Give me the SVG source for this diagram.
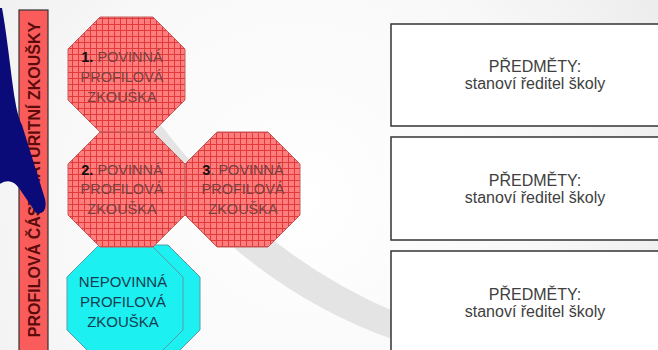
<svg xmlns="http://www.w3.org/2000/svg" width="658" height="350" viewBox="0 0 658 350">
  <defs>
    <radialGradient id="bg" cx="300" cy="200" r="420" gradientUnits="userSpaceOnUse">
      <stop offset="0" stop-color="#ffffff"/>
      <stop offset="0.6" stop-color="#f8f8f8"/>
      <stop offset="1" stop-color="#ececec"/>
    </radialGradient>
    <pattern id="grid" width="6" height="6" patternUnits="userSpaceOnUse">
      <rect width="6" height="6" fill="#ff7d7d"/>
      <path d="M0,0.5 H6 M0.5,0 V6" stroke="#e23a3a" stroke-width="1"/>
    </pattern>
    <style>
      .oct { fill: url(#grid); stroke: #c45a5a; stroke-width: 1; }
      .cyan { fill: #1cf0f0; stroke: #5a9aa8; stroke-width: 1; }
      .otxt { font-family: "Liberation Sans", Arial, sans-serif; font-size: 14.5px; fill: #7a4040; text-anchor: middle; }
      .num { font-weight: bold; fill: #111; }
      .ctxt { font-family: "Liberation Sans", Arial, sans-serif; font-size: 15px; fill: #163e52; text-anchor: middle; }
      .box { fill: #ffffff; stroke: #333333; stroke-width: 1.5; }
      .btxt { font-family: "Liberation Sans", Arial, sans-serif; font-size: 16px; fill: #404040; text-anchor: middle; }
      .bar { fill: #fa5c5c; stroke: #333333; stroke-width: 1.2; }
      .bartxt { font-family: "Liberation Sans", Arial, sans-serif; font-size: 16px; font-weight: bold; fill: #5a0c0c; text-anchor: middle; }
    </style>
  </defs>

  <rect width="658" height="350" fill="url(#bg)"/>
  <!-- background swoosh -->
  <path d="M150,110 Q250,250 395,312 L395,340 Q250,290 140,150 Z" fill="#e4e4e4"/>

  <!-- vertical bar -->
  <g id="bar">
    <rect class="bar" x="19" y="10" width="29" height="350"/>
    <text class="bartxt" transform="translate(39.5,179.5) rotate(-90)">PROFILOVÁ ČÁST MATURITNÍ ZKOUŠKY</text>
  </g>

  <!-- navy swoosh (on top of the bar) -->
  <path d="M-2,8 L2,8 C7,35 11,75 15,100 C17,112 19,119 22,125 L45,199 Q48,215 36,213 L21,191 C15,181 8,178 -2,185 Z" fill="#0a0a78"/>

  <g id="connectors"></g>

  <!-- cyan optional exam -->
  <g id="nepovinna">
    <path class="cyan" d="M116,245 L168,245 L200,277 L200,330 L168,362 L116,362 L84,330 L84,277 Z"/>
    <path class="cyan" d="M99,245 L151,245 L183,277 L183,330 L151,362 L99,362 L67,330 L67,277 Z"/>
    <text class="ctxt" x="123" y="287">NEPOVINNÁ</text>
    <text class="ctxt" x="123" y="307">PROFILOVÁ</text>
    <text class="ctxt" x="123" y="327">ZKOUŠKA</text>
  </g>

  <g id="povinna1">
    <path class="oct" d="M100,17 L153,17 L185,49 L185,100 L153,132 L100,132 L68,100 L68,49 Z"/>
    <text class="otxt" x="122" y="62"><tspan class="num">1.</tspan> POVINNÁ</text>
    <text class="otxt" x="122" y="82">PROFILOVÁ</text>
    <text class="otxt" x="122" y="102">ZKOUŠKA</text>
  </g>

  <g id="povinna2">
    <path class="oct" d="M100,132 L153,132 L185,164 L185,215 L153,247 L100,247 L68,215 L68,164 Z"/>
    <text class="otxt" x="122" y="175"><tspan class="num">2.</tspan> POVINNÁ</text>
    <text class="otxt" x="122" y="194">PROFILOVÁ</text>
    <text class="otxt" x="122" y="214">ZKOUŠKA</text>
  </g>

  <g id="povinna3">
    <path class="oct" d="M217,132 L268,132 L300,164 L300,215 L268,247 L217,247 L185,215 L185,164 Z"/>
    <text class="otxt" x="243" y="175"><tspan class="num">3</tspan>. POVINNÁ</text>
    <text class="otxt" x="243" y="194">PROFILOVÁ</text>
    <text class="otxt" x="243" y="214">ZKOUŠKA</text>
  </g>

  <g id="predmety1">
    <rect class="box" x="391" y="24" width="280" height="102"/>
    <text class="btxt" x="535" y="72">PŘEDMĚTY:</text>
    <text class="btxt" x="535" y="89">stanoví ředitel školy</text>
  </g>
  <g id="predmety2">
    <rect class="box" x="391" y="137" width="280" height="103"/>
    <text class="btxt" x="535" y="186">PŘEDMĚTY:</text>
    <text class="btxt" x="535" y="203">stanoví ředitel školy</text>
  </g>
  <g id="predmety3">
    <rect class="box" x="391" y="251" width="280" height="110"/>
    <text class="btxt" x="535" y="300">PŘEDMĚTY:</text>
    <text class="btxt" x="535" y="317">stanoví ředitel školy</text>
  </g>
</svg>
